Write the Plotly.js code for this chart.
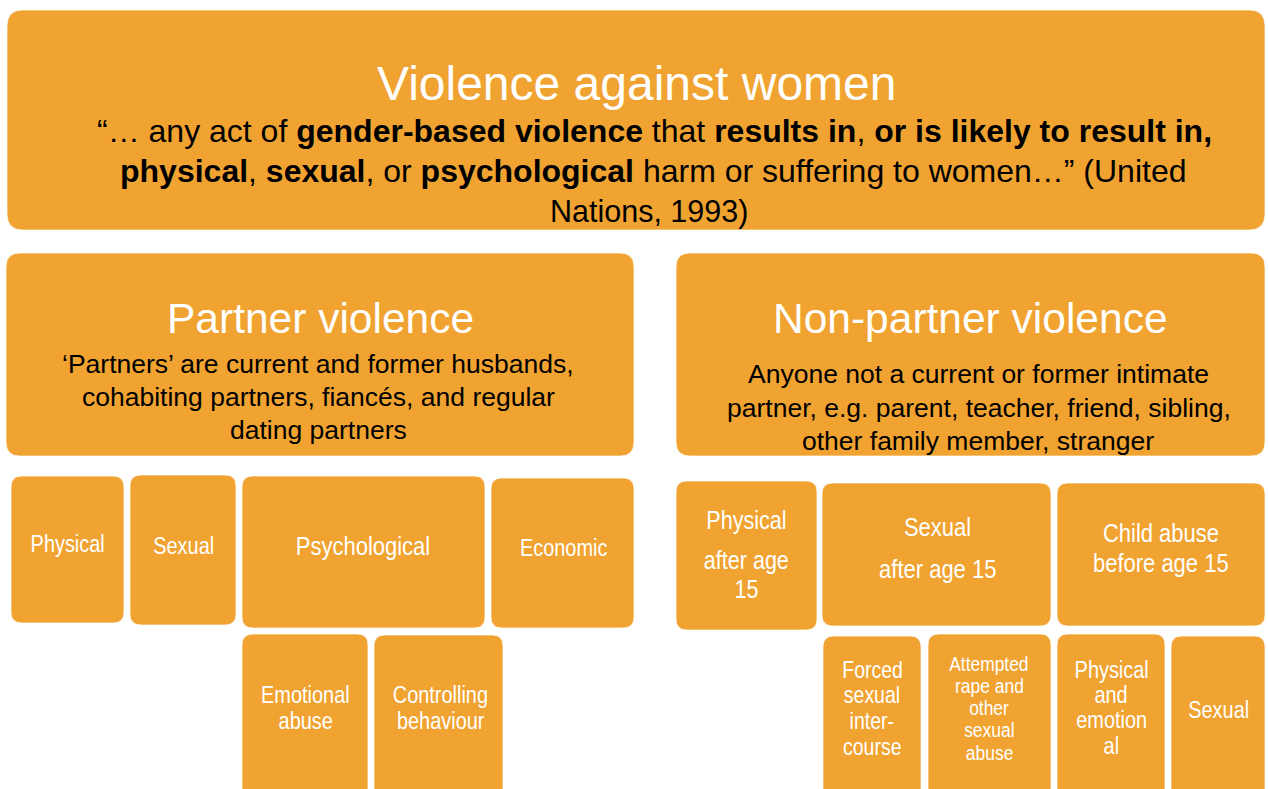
<!DOCTYPE html>
<html>
<head>
<meta charset="utf-8">
<script src="https://cdn.plot.ly/plotly-3.0.1.min.js"></script>
<style>
  html, body { margin: 0; padding: 0; background: #ffffff; }
  #chart { width: 1268px; height: 789px; }
</style>
</head>
<body>
<div id="chart"></div>
<script>
// ---------- DATA (text content of the diagram) ----------
const headings = ["Violence against women", "Partner violence", "Non-partner violence"];

const definitions = [
  [
    "\u201c\u2026 any act of <b>gender-based violence</b> that <b>results in</b>, <b>or is likely to result in,</b>",
    "<b>physical</b>, <b>sexual</b>, or <b>psychological</b> harm or suffering to women\u2026\u201d (United",
    "Nations, 1993)"
  ],
  [
    "\u2018Partners\u2019 are current and former husbands,",
    "cohabiting partners, fianc\u00e9s, and regular",
    "dating partners"
  ],
  [
    "Anyone not a current or former intimate",
    "partner, e.g. parent, teacher, friend, sibling,",
    "other family member, stranger"
  ]
];

const partnerTypes = [["Physical"], ["Sexual"], ["Psychological"], ["Economic"]];
const psychologicalSubtypes = [["Emotional", "abuse"], ["Controlling", "behaviour"]];
const nonPartnerTypes = [
  ["Physical", "after age", "15"],
  ["Sexual", "after age 15"],
  ["Child abuse", "before age 15"]
];
const sexualSubtypes = [
  ["Forced", "sexual", "inter-", "course"],
  ["Attempted", "rape and", "other", "sexual", "abuse"]
];
const childAbuseSubtypes = [["Physical", "and", "emotion", "al"], ["Sexual"]];

// ---------- LAYOUT GEOMETRY (pixel space of the diagram) ----------
const FILL = "#F0A331";
const FONT = "Liberation Sans, Arial, Helvetica, sans-serif";
const NARROW_SCALE = 0.83;

// header boxes
const headerBoxes = [
  {x0: 7, x1: 1265, y0: 10, y1: 230, r: 16, hx: 636, hy: 83, hs: 48,
   dx: [654, 653, 649], dy: [131, 171, 211], ds: [32, 32, 30.5]},
  {x0: 6, x1: 634, y0: 253, y1: 456, r: 14, hx: 320, hy: 318, hs: 42.5,
   dx: [318, 318, 318], dy: [364, 397, 430], ds: [26.5, 26.5, 26.5]},
  {x0: 676, x1: 1265, y0: 253, y1: 456, r: 14, hx: 970, hy: 318, hs: 42.5,
   dx: [978, 979, 978], dy: [374, 408, 441], ds: [26.5, 26.5, 26.5]}
];

// category boxes: [labels, geometry]
const catBoxes = [
  [partnerTypes[0], {x0: 11, x1: 124, y0: 476, y1: 623, tx: 67, ty: [543], s: 24}],
  [partnerTypes[1], {x0: 130, x1: 236, y0: 475, y1: 625, tx: 183, ty: [545], s: 24}],
  [partnerTypes[2], {x0: 242, x1: 485, y0: 476, y1: 628, tx: 363, ty: [546], s: 26.5}],
  [partnerTypes[3], {x0: 491, x1: 634, y0: 478, y1: 628, tx: 563, ty: [547], s: 24}],
  [psychologicalSubtypes[0], {x0: 242, x1: 368, y0: 634, y1: 805, tx: 305, ty: [694, 720], s: 24}],
  [psychologicalSubtypes[1], {x0: 374, x1: 503, y0: 635, y1: 805, tx: 440, ty: [694, 720], s: 24}],
  [nonPartnerTypes[0], {x0: 676, x1: 817, y0: 481, y1: 630, tx: 746, ty: [520, 560, 589], s: 26}],
  [nonPartnerTypes[1], {x0: 822, x1: 1051, y0: 483, y1: 626, tx: 937, ty: [527, 569], s: 26.5}],
  [nonPartnerTypes[2], {x0: 1057, x1: 1265, y0: 483, y1: 626, tx: 1161, ty: [533, 563], s: 26.5}],
  [sexualSubtypes[0], {x0: 823, x1: 921, y0: 636, y1: 805, tx: 872, ty: [670, 695, 721, 747], s: 23.5}],
  [sexualSubtypes[1], {x0: 928, x1: 1051, y0: 634, y1: 805, tx: 989, ty: [663, 685, 707, 729, 752], s: 21}],
  [childAbuseSubtypes[0], {x0: 1057, x1: 1165, y0: 634, y1: 805, tx: 1111, ty: [669, 694, 719, 745], s: 24}],
  [childAbuseSubtypes[1], {x0: 1171, x1: 1265, y0: 636, y1: 805, tx: 1218, ty: [709], s: 24}]
];

function roundRect(x0, x1, y0, y1, r) {
  return "M" + (x0 + r) + "," + y0 +
    " L" + (x1 - r) + "," + y0 +
    " Q" + x1 + "," + y0 + " " + x1 + "," + (y0 + r) +
    " L" + x1 + "," + (y1 - r) +
    " Q" + x1 + "," + y1 + " " + (x1 - r) + "," + y1 +
    " L" + (x0 + r) + "," + y1 +
    " Q" + x0 + "," + y1 + " " + x0 + "," + (y1 - r) +
    " L" + x0 + "," + (y0 + r) +
    " Q" + x0 + "," + y0 + " " + (x0 + r) + "," + y0 + " Z";
}

const shapes = [];
const annotations = [];
const narrowIdx = [];

function addBox(g, r) {
  shapes.push({
    type: "path", xref: "x", yref: "y",
    path: roundRect(g.x0, g.x1, g.y0, g.y1, r),
    fillcolor: FILL,
    line: {color: "rgba(255,255,255,0.7)", width: 1},
    layer: "below"
  });
}

function addText(text, x, y, size, color, narrow) {
  if (narrow) narrowIdx.push(annotations.length);
  annotations.push({
    text: text, x: x, y: y, xref: "x", yref: "y",
    xanchor: "center", yanchor: "middle", showarrow: false,
    font: {family: FONT, size: size, color: color}
  });
}

headerBoxes.forEach(function (g, i) {
  addBox(g, g.r);
  addText(headings[i], g.hx, g.hy, g.hs, "#ffffff", false);
  definitions[i].forEach(function (line, j) {
    addText(line, g.dx[j], g.dy[j], g.ds[j], "#000000", false);
  });
});

catBoxes.forEach(function (item) {
  const labels = item[0], g = item[1];
  addBox(g, 11);
  labels.forEach(function (line, j) {
    addText(line, g.tx, g.ty[j], g.s, "#ffffff", true);
  });
});

const layout = {
  width: 1268, height: 789,
  margin: {l: 0, r: 0, t: 0, b: 0, pad: 0},
  paper_bgcolor: "#ffffff", plot_bgcolor: "#ffffff",
  xaxis: {range: [0, 1268], visible: false, fixedrange: true},
  yaxis: {range: [789, 0], visible: false, fixedrange: true},
  showlegend: false,
  shapes: shapes,
  annotations: annotations
};

Plotly.newPlot("chart", [], layout, {displayModeBar: false, staticPlot: true}).then(function () {
  // condensed lettering for the small category boxes (horizontal squeeze around each text's centre)
  narrowIdx.forEach(function (k) {
    const t = document.querySelector('#chart g.annotation[data-index="' + k + '"] text.annotation-text');
    if (t) {
      t.style.transformBox = "fill-box";
      t.style.transformOrigin = "center";
      t.style.transform = "scaleX(" + NARROW_SCALE + ")";
    }
  });
});
</script>
</body>
</html>
